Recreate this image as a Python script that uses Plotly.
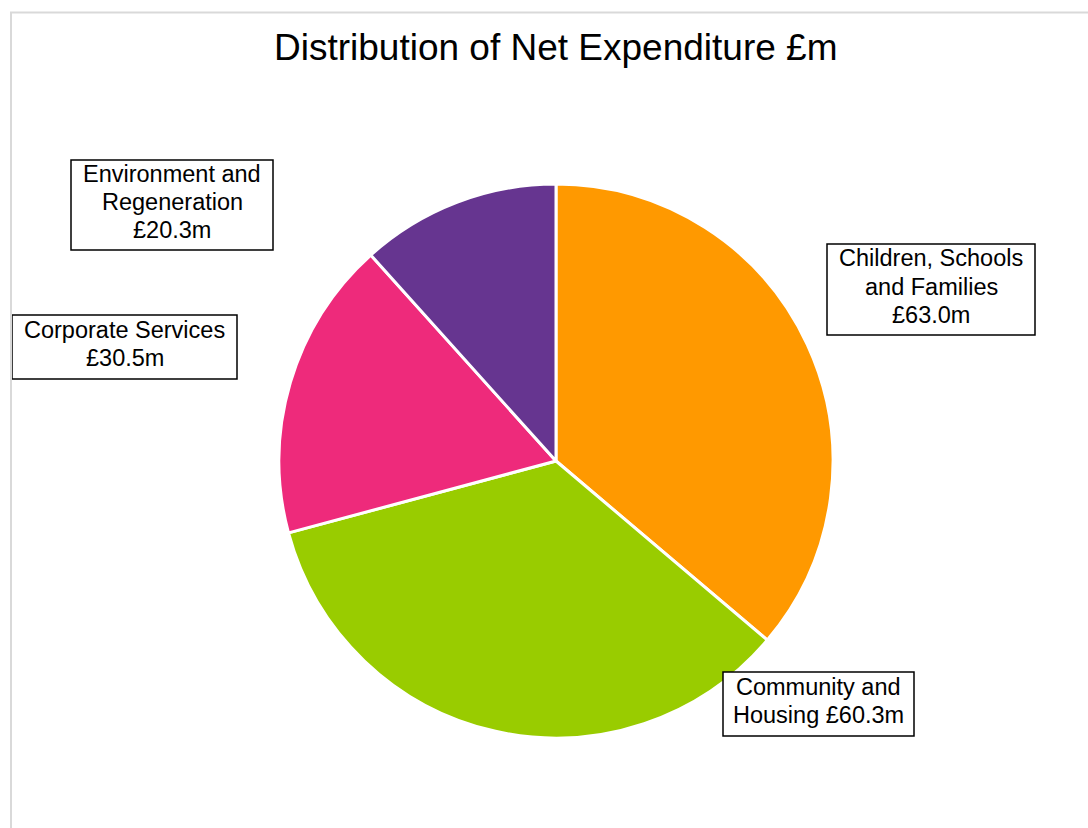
import plotly.graph_objects as go

# Net expenditure by directorate (£m)
categories = ["Children, Schools and Families", "Community and Housing",
              "Corporate Services", "Environment and Regeneration"]
values = [63.0, 60.3, 30.5, 20.3]
colors = ["#FF9900", "#99CC00", "#EE2A7B", "#663590"]

# Callout text lines for each slice; the value goes into the last line
label_lines = [["Children, Schools", "and Families", "£{:.1f}m"],
               ["Community and", "Housing £{:.1f}m"],
               ["Corporate Services", "£{:.1f}m"],
               ["Environment and", "Regeneration", "£{:.1f}m"]]

W, H = 1088, 828
FONT = "Liberation Sans, Arial, sans-serif"
LINE_GAP = 28  # px between text lines inside a callout
TEXT_LIFT = 3  # px the text block sits above the box centre

# Callout box placement in pixels: (left, top, right, bottom)
boxes = [(827, 244, 1035, 335),
         (723, 672, 914, 736),
         (12, 315, 237, 379),
         (71, 160, 273, 250)]

fig = go.Figure()
fig.add_trace(go.Pie(
    labels=categories,
    values=values,
    sort=False,
    direction="clockwise",
    rotation=0,
    marker=dict(colors=colors, line=dict(color="white", width=3)),
    textinfo="none",
    hoverinfo="label+value",
    showlegend=False,
    domain=dict(x=[279 / W, 833 / W], y=[1 - 738 / H, 1 - 184 / H]),
))

annotations = [dict(
    text="Distribution of Net Expenditure £m",
    xref="paper", yref="paper", x=556 / W, y=1 - 47 / H,
    xanchor="center", yanchor="middle", showarrow=False,
    font=dict(family=FONT, size=37, color="black"),
)]
shapes = []
for lines, v, (l, t, r, b) in zip(label_lines, values, boxes):
    shapes.append(dict(
        type="rect", xref="paper", yref="paper",
        x0=l / W, x1=r / W, y0=1 - b / H, y1=1 - t / H,
        fillcolor="white", line=dict(color="black", width=1.5), layer="above",
    ))
    cx, cy = (l + r) / 2, (t + b) / 2 - TEXT_LIFT
    n = len(lines)
    for i, ln in enumerate(lines):
        ly = cy + (i - (n - 1) / 2) * LINE_GAP
        annotations.append(dict(
            text=ln.format(v),
            xref="paper", yref="paper", x=cx / W, y=1 - ly / H,
            xanchor="center", yanchor="middle", showarrow=False,
            font=dict(family=FONT, size=23.5, color="black"),
        ))

# Chart-area frame (left and top edges)
shapes += [
    dict(type="line", xref="paper", yref="paper", x0=11 / W, x1=11 / W, y0=0, y1=1 - 12 / H,
         line=dict(color="#D9D9D9", width=2)),
    dict(type="line", xref="paper", yref="paper", x0=10 / W, x1=1, y0=1 - 12.5 / H, y1=1 - 12.5 / H,
         line=dict(color="#D9D9D9", width=2)),
]

fig.update_layout(
    width=W, height=H,
    margin=dict(l=0, r=0, t=0, b=0),
    paper_bgcolor="white", plot_bgcolor="white",
    annotations=annotations, shapes=shapes,
)

fig.write_html("out.html")
